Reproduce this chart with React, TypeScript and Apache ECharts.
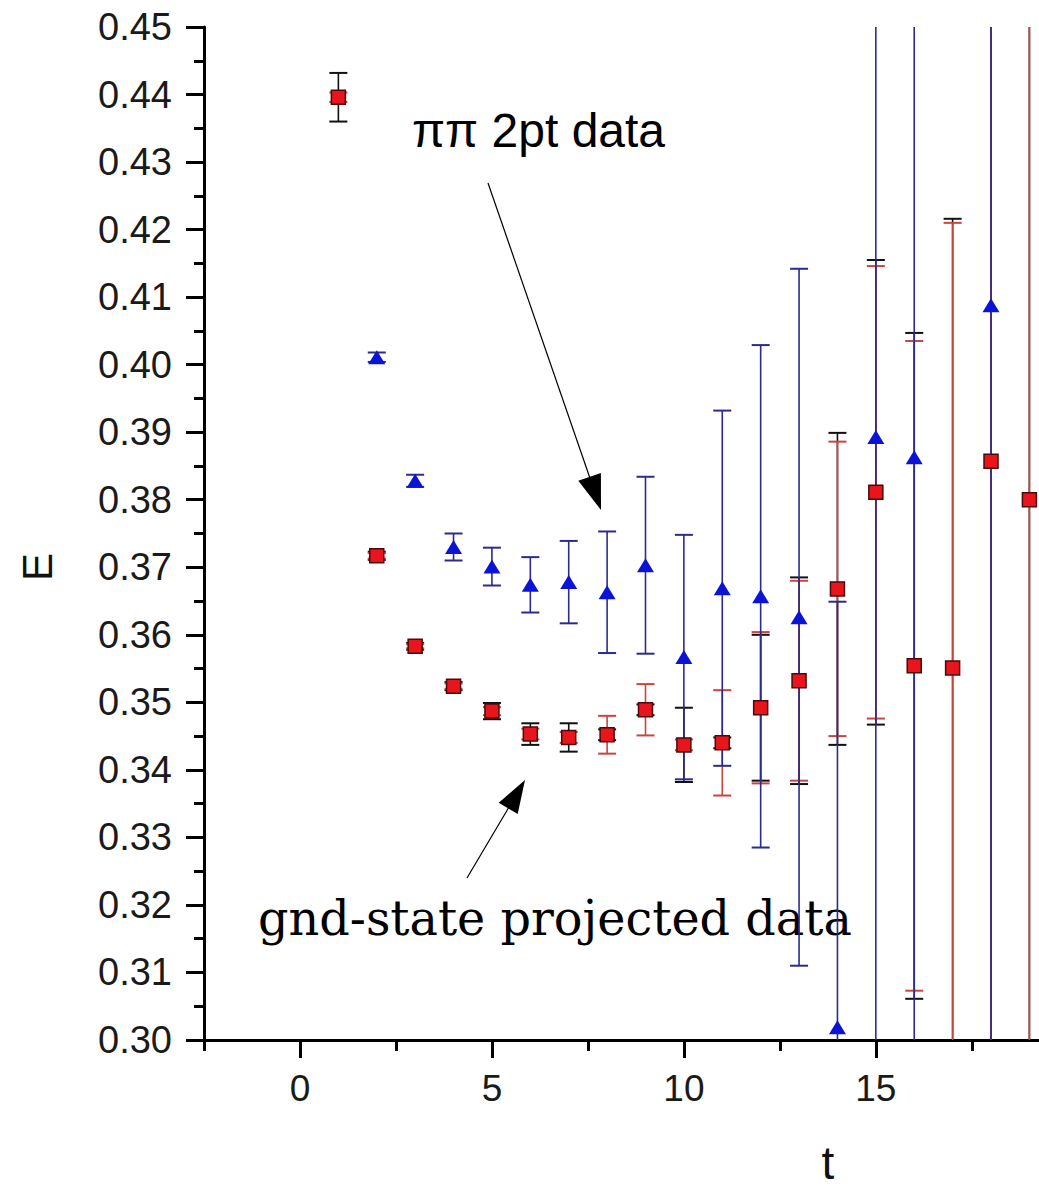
import React, { useEffect, useRef } from "react";
import * as echarts from "echarts";

// ---- data ----
const redT = [1, 2, 3, 4, 5, 6, 7, 8, 9, 10, 11, 12, 13, 14, 15, 16, 17, 18, 19];
const redE = [0.4396, 0.3717, 0.3583, 0.3524, 0.3487, 0.3453, 0.3448, 0.3452, 0.3489, 0.3437, 0.344, 0.3492, 0.3532, 0.3668, 0.3811, 0.3554, 0.3551, 0.3857, 0.38];
const redErrBlack = [0.0036, 0.0006, 0.0005, 0.0006, 0.0012, 0.0016, 0.0021, 0.0008, 0.0008, 0.0055, 0.0008, 0.0108, 0.0153, 0.0231, 0.0344, 0.0493, 0.0665, 0.1, 0.1];
const redErrRed = [0.0007, 0.0004, 0.0003, 0.0004, 0.0006, 0.0008, 0.0008, 0.0028, 0.0038, 0.0008, 0.0078, 0.0112, 0.0148, 0.0218, 0.0335, 0.0481, 0.0659, 0.1, 0.1];

const blueT = [2, 3, 4, 5, 6, 7, 8, 9, 10, 11, 12, 13, 14, 15, 16, 18];
const blueE = [0.4011, 0.3828, 0.373, 0.3701, 0.3674, 0.3678, 0.3663, 0.3703, 0.3567, 0.3669, 0.3657, 0.3626, 0.3019, 0.3893, 0.3863, 0.4088];
const blueErr = [0.0007, 0.0009, 0.002, 0.0028, 0.0041, 0.0061, 0.009, 0.0131, 0.0181, 0.0263, 0.0372, 0.0516, 0.063, 0.12, 0.12, 0.12];

const xMajorTicks = [0, 5, 10, 15];
const xMinorTicks = [-2.5, 2.5, 7.5, 12.5, 17.5];

const labelPiPi = "ππ 2pt data";
const labelGnd = "gnd-state projected data";
const yName = "E";
const xName = "t";

function errSeries(xs: number[], vs: number[], es: number[], color: string, z: number) {
  return {
    type: "custom",
    xAxisIndex: 0,
    yAxisIndex: 0,
    clip: true,
    z,
    silent: true,
    data: xs.map((x, i) => [x, vs[i], es[i]]),
    renderItem: (params: any, api: any) => {
      const x = api.value(0);
      const v = api.value(1);
      const e = api.value(2);
      const top = api.coord([x, v + e]);
      const bot = api.coord([x, v - e]);
      const ch = 9;
      return {
        type: "group",
        children: [
          { type: "line", shape: { x1: top[0], y1: top[1], x2: bot[0], y2: bot[1] }, style: { stroke: color, lineWidth: 1.6 } },
          { type: "line", shape: { x1: top[0] - ch, y1: top[1], x2: top[0] + ch, y2: top[1] }, style: { stroke: color, lineWidth: 2 } },
          { type: "line", shape: { x1: bot[0] - ch, y1: bot[1], x2: bot[0] + ch, y2: bot[1] }, style: { stroke: color, lineWidth: 2 } },
        ],
      };
    },
  };
}

export default function App() {
  const ref = useRef<HTMLDivElement>(null);
  useEffect(() => {
    if (!ref.current) return;
    const chart = echarts.init(ref.current, null, { renderer: "svg" });
    const axisFont = "'Liberation Sans', Arial, sans-serif";
    chart.setOption({
      animation: false,
      backgroundColor: "#ffffff",
      grid: { left: 204, right: 0, top: 27, bottom: 149, containLabel: false },
      xAxis: [
        {
          type: "value",
          min: -2.5,
          max: 19.25,
          splitLine: { show: false },
          axisLine: { show: true, onZero: false, lineStyle: { color: "#000", width: 3 } },
          axisTick: { show: true, customValues: xMajorTicks, length: 18, lineStyle: { color: "#000", width: 3 } },
          axisLabel: { customValues: xMajorTicks, margin: 30, fontSize: 37, color: "#1a1a1a", fontFamily: axisFont },
        },
        {
          type: "value",
          min: -2.5,
          max: 19.25,
          position: "bottom",
          splitLine: { show: false },
          axisLine: { show: false },
          axisTick: { show: true, customValues: xMinorTicks, length: 11, lineStyle: { color: "#000", width: 3 } },
          axisLabel: { show: false },
        },
      ],
      yAxis: {
        type: "value",
        min: 0.3,
        max: 0.45,
        interval: 0.01,
        splitLine: { show: false },
        axisLine: { show: true, onZero: false, lineStyle: { color: "#000", width: 3 } },
        axisTick: { show: true, length: 18, lineStyle: { color: "#000", width: 3 } },
        minorTick: { show: true, splitNumber: 2, length: 10, lineStyle: { color: "#000", width: 3 } },
        axisLabel: {
          margin: 32,
          fontSize: 38,
          color: "#1a1a1a",
          fontFamily: axisFont,
          formatter: (v: number) => v.toFixed(2),
        },
      },
      series: [
        errSeries(redT, redE, redErrBlack, "#111111", 2),
        errSeries(redT, redE, redErrRed, "#c8453e", 3),
        errSeries(blueT, blueE, blueErr, "#2b2b8c", 4),
        {
          type: "scatter",
          z: 6,
          symbol: "rect",
          symbolSize: 14,
          itemStyle: { color: "#e8161c", borderColor: "#4a0a0a", borderWidth: 1.5, opacity: 1 },
          data: redT.map((t, i) => [t, redE[i]]),
        },
        {
          type: "scatter",
          z: 7,
          symbol: "triangle",
          symbolSize: [17, 14],
          itemStyle: { color: "#0b14d6", opacity: 1 },
          data: blueT.map((t, i) => [t, blueE[i]]),
        },
      ],
      graphic: [
        {
          type: "text",
          x: 37,
          y: 567,
          rotation: Math.PI / 2,
          style: { text: yName, fontSize: 42, fill: "#111", fontFamily: axisFont, align: "center", verticalAlign: "middle" },
        },
        {
          type: "text",
          x: 828,
          y: 1163,
          style: { text: xName, fontSize: 46, fill: "#111", fontFamily: axisFont, align: "center", verticalAlign: "middle" },
        },
        {
          type: "text",
          x: 412,
          y: 130,
          style: { text: labelPiPi, fontSize: 48, fill: "#000", fontFamily: axisFont, align: "left", verticalAlign: "middle" },
        },
        {
          type: "text",
          x: 258,
          y: 918,
          style: { text: labelGnd, fontSize: 47.7, fill: "#000", fontFamily: "'DejaVu Serif', serif", align: "left", verticalAlign: "middle" },
        },
        {
          type: "line",
          shape: { x1: 488, y1: 183, x2: 592, y2: 484 },
          style: { stroke: "#000", lineWidth: 1.2 },
        },
        {
          type: "polygon",
          shape: { points: [[601, 510], [578.3, 480.8], [600.9, 473.0]] },
          style: { fill: "#000" },
        },
        {
          type: "line",
          shape: { x1: 467, y1: 878, x2: 512, y2: 802 },
          style: { stroke: "#000", lineWidth: 1.2 },
        },
        {
          type: "polygon",
          shape: { points: [[525, 780], [517.7, 814], [498.7, 802.8]] },
          style: { fill: "#000" },
        },
      ],
    });
    return () => chart.dispose();
  }, []);
  return (
    <div
      ref={ref}
      style={{ position: "fixed", left: 0, top: 0, width: 1039, height: 1189, background: "#fff" }}
    />
  );
}
